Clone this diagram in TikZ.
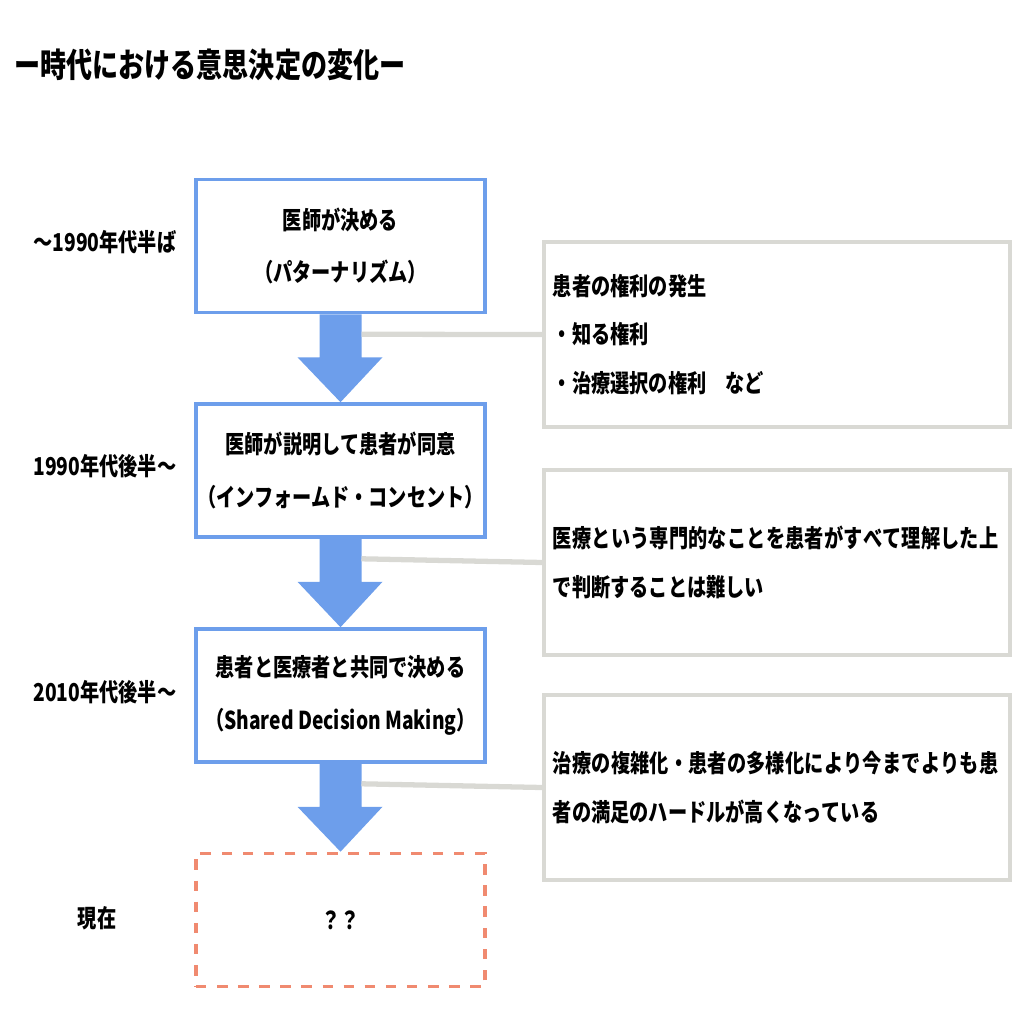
\documentclass[tikz,border=0pt]{standalone}
\usepackage{fontspec}
\setmainfont{Noto Sans CJK JP}[FakeStretch=0.78]
\XeTeXlinebreaklocale "ja"
\XeTeXlinebreakskip=0pt plus 1pt
\usetikzlibrary{positioning,calc}
\definecolor{stepblue}{HTML}{6D9EEB}
\definecolor{notegray}{HTML}{D9D9D4}
\definecolor{nowred}{HTML}{F08A70}

\begin{document}
\begin{tikzpicture}[x=0.01cm,y=-0.01cm,
    era/.style={draw=stepblue,line width=1pt,minimum width=28.9mm,minimum height=13.3mm,
                align=center,font=\bfseries\fontsize{7}{15}\selectfont,inner sep=0pt},
    note/.style={draw=notegray,line width=1pt,minimum width=46.6mm,minimum height=18.5mm,
                 align=left,text width=44.8mm,inner sep=0.8mm,font=\bfseries\fontsize{7}{13.8}\selectfont},
    when/.style={font=\bfseries\fontsize{7}{9}\selectfont},
    flow/.style={fill=stepblue},
    link/.style={draw=notegray,line width=1.5pt}]
  \useasboundingbox (0,0) rectangle (1022,1022);

  \node[anchor=west,font=\bfseries\fontsize{9.5}{11}\selectfont] (title) at (2,65) {ー時代における意思決定の変化ー};

  % steps
  \node[era] (paternal) at (340.5,246) {医師が決める\\（パターナリズム）};
  \node[era] (consent)  at (340.5,470.5) {医師が説明して患者が同意\\（インフォームド・コンセント）};
  \node[era] (sdm)      at (340.5,695.5) {患者と医療者と共同で決める\\（Shared Decision Making）};
  \node[era,draw=nowred,dashed] (now) at (340.5,920) {？？};

  % time labels
  \node[when] (t1) at (105,242) {～1990年代半ば};
  \node[when] (t2) at (105,466) {1990年代後半～};
  \node[when] (t3) at (105,692) {2010年代後半～};
  \node[when] (t4) at (97,918) {現在};

  % notes
  \node[note] (rights)  at (777,334.5) {患者の権利の発生\\・知る権利\\・治療選択の権利　など};
  \node[note] (hard)    at (777,562.5) {医療という専門的なことを患者がすべて理解した上で判断することは難しい};
  \node[note] (satisfy) at (777,787.5) {治療の複雑化・患者の多様化により今までよりも患者の満足のハードルが高くなっている};

  % arrows between steps
  \foreach \a/\b/\n in {paternal/consent/rights,consent/sdm/hard,sdm/now/satisfy}{
    \fill[flow] ($(\a.south)+(-21,0)$) -- ++(0,43) -- ++(-22,0)
      -- (\b.north) -- ($(\a.south)+(42,43)$) -- ++(-21,0) -- ++(0,-43) -- cycle;
    \draw[link] ($(\a.south)+(21,20)$) -- (\n.west);
  }
\end{tikzpicture}
\end{document}
